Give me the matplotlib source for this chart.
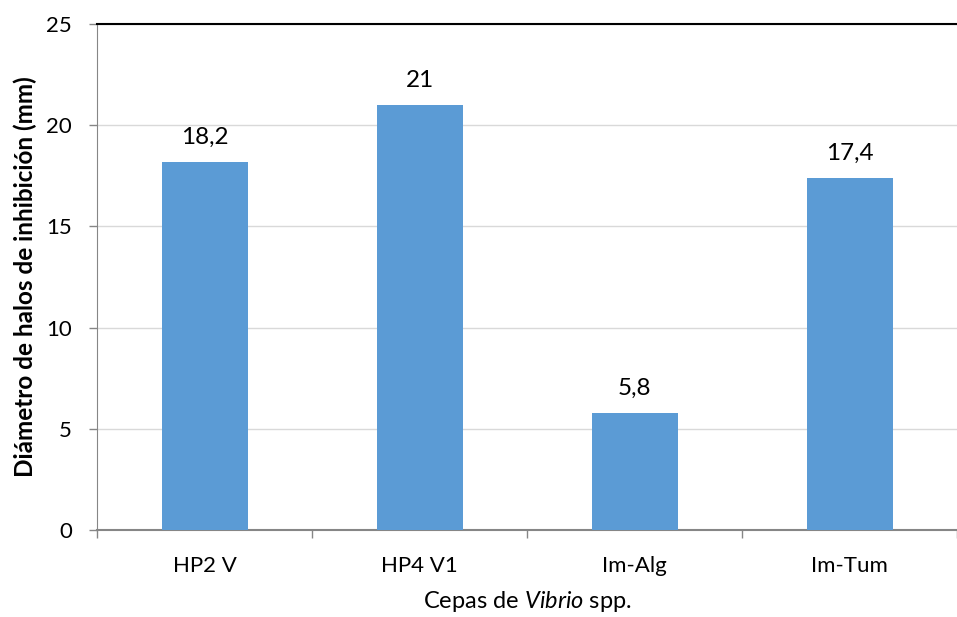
import matplotlib.pyplot as plt
import matplotlib as mpl

# Data
strains = ["HP2 V", "HP4 V1", "Im-Alg", "Im-Tum"]
halo_mm = [18.2, 21, 5.8, 17.4]
value_labels = ["18,2", "21", "5,8", "17,4"]
y_ticks = [0, 5, 10, 15, 20, 25]

plt.rcParams['font.family'] = ['Lato', 'DejaVu Sans']
plt.rcParams['mathtext.fontset'] = 'custom'
plt.rcParams['mathtext.rm'] = 'Lato'
plt.rcParams['mathtext.it'] = 'Lato:italic'

fig = plt.figure(figsize=(9.57, 6.17), dpi=100)
ax = fig.add_axes([0.1014, 0.141, 0.8986, 0.820])

x = list(range(len(strains)))
ax.bar(x, halo_mm, width=0.4, color='#5B9BD5', zorder=3)
for xi, v, lab in zip(x, halo_mm, value_labels):
    ax.annotate(lab, (xi, v), xytext=(0, 10), textcoords='offset points',
                ha='center', va='bottom', fontsize=17.5)

ax.set_xlim(-0.5, 3.5)
ax.set_ylim(0, 25)
ax.set_yticks(y_ticks)
ax.set_xticks(x)
ax.set_xticklabels(strains)
ax.set_xticks([-0.5, 0.5, 1.5, 2.5, 3.5], minor=True)
ax.tick_params(axis='x', which='major', length=0, pad=19, labelsize=16)
ax.tick_params(axis='x', which='minor', length=6, color='#868686', width=1)
ax.tick_params(axis='y', length=6, color='#868686', width=1, labelsize=16, pad=12)
ax.yaxis.grid(True, color='#D9D9D9', linewidth=1, zorder=0)

ax.spines['right'].set_visible(False)
ax.spines['top'].set_color('black')
ax.spines['top'].set_linewidth(1.5)
ax.spines['left'].set_color('#868686')
ax.spines['bottom'].set_color('#868686')
ax.spines['bottom'].set_linewidth(1.5)

ax.set_ylabel("Diámetro de halos de inhibición (mm)", fontsize=17.5, fontweight='bold', labelpad=7)
ax.set_xlabel(r"Cepas de $\mathit{Vibrio}$ spp.", fontsize=17, labelpad=9)

plt.savefig("out.png", dpi=100)
plt.close("all")
